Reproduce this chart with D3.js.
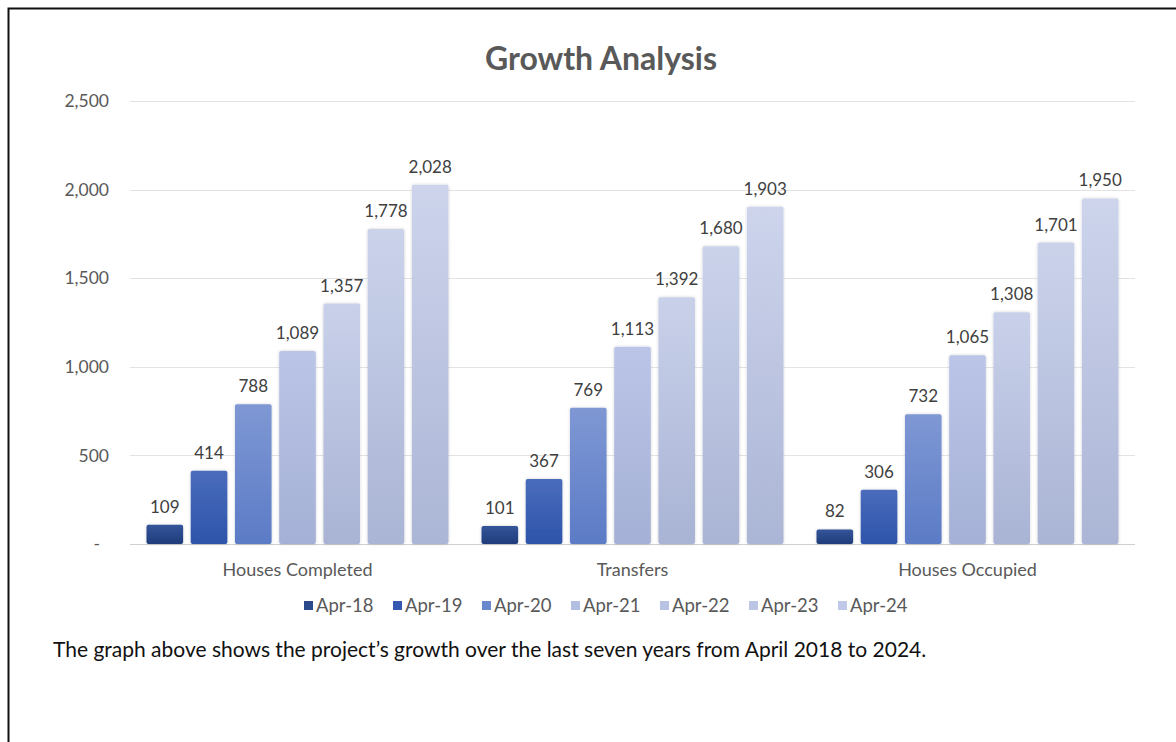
<!DOCTYPE html>
<html>
<head>
<meta charset="utf-8">
<script src="https://cdn.jsdelivr.net/npm/d3@7"></script>
<style>
  html, body { margin: 0; padding: 0; background: #fff; }
  svg { display: block; }
</style>
</head>
<body>
<svg id="chart" width="1176" height="742"></svg>
<script>
const categories = ["Houses Completed", "Transfers", "Houses Occupied"];
const seriesNames = ["Apr-18", "Apr-19", "Apr-20", "Apr-21", "Apr-22", "Apr-23", "Apr-24"];
const housesCompleted = [109, 414, 788, 1089, 1357, 1778, 2028];
const transfers = [101, 367, 769, 1113, 1392, 1680, 1903];
const housesOccupied = [82, 306, 732, 1065, 1308, 1701, 1950];
const yTicks = [0, 500, 1000, 1500, 2000, 2500];
const yTickLabels = ["-", "500", "1,000", "1,500", "2,000", "2,500"];
const title = "Growth Analysis";
const caption = "The graph above shows the project\u2019s growth over the last seven years from April 2018 to 2024.";

const seriesTop = ["#34559a", "#4a6cbc", "#7f98d4", "#bac5e7", "#c9d1ea", "#cbd3eb", "#cdd4ec"];
const seriesBottom = ["#203c7a", "#2d54aa", "#5b7bc6", "#a5b0d6", "#a9b3d4", "#aab4d4", "#abb5d5"];
const legendColors = ["#2a4a8c", "#3559b2", "#6a88cc", "#b2bde2", "#b8c2e2", "#bcc5e4", "#bfc8e6"];

const valuesByCat = [housesCompleted, transfers, housesOccupied];
const data = categories.map((c, i) => ({ cat: c, values: seriesNames.map((s, j) => ({ s, j, v: valuesByCat[i][j] })) }));

const svg = d3.select("#chart");
const font = "Lato, 'Open Sans', sans-serif";

// frame (top & left border)
svg.append("path").attr("d", "M8.5,742 L8.5,8.5 L1176,8.5").attr("fill", "none").attr("stroke", "#111").attr("stroke-width", 2);

const defs = svg.append("defs");
seriesNames.forEach((s, j) => {
  const g = defs.append("linearGradient").attr("id", "grad" + j).attr("x1", 0).attr("y1", 0).attr("x2", 0).attr("y2", 1);
  g.append("stop").attr("offset", "0%").attr("stop-color", seriesTop[j]);
  g.append("stop").attr("offset", "100%").attr("stop-color", seriesBottom[j]);
});
const f = defs.append("filter").attr("id", "shadow").attr("x", "-20%").attr("y", "-10%").attr("width", "140%").attr("height", "120%");
f.append("feDropShadow").attr("dx", 0).attr("dy", 0).attr("stdDeviation", 1.5).attr("flood-color", "#000").attr("flood-opacity", 0.18);

const plot = { left: 130, right: 1135, top: 101, bottom: 544 };

const y = d3.scaleLinear().domain([0, 2500]).range([plot.bottom, plot.top]);
const x0 = d3.scaleBand().domain(categories).range([plot.left, plot.right]).padding(0);
const pad = 16.5;
const x1 = d3.scaleBand().domain(seriesNames).range([pad, x0.bandwidth() - pad]).paddingInner(0.172).paddingOuter(0);

// gridlines
svg.append("g").selectAll("line").data(yTicks).join("line")
  .attr("x1", plot.left).attr("x2", plot.right)
  .attr("y1", d => Math.round(y(d)) + 0.5).attr("y2", d => Math.round(y(d)) + 0.5)
  .attr("stroke", d => d === 0 ? "#d0d0d0" : "#e3e3e3").attr("stroke-width", 1);

// y axis labels
const yAxis = d3.axisLeft(y).tickValues(yTicks).tickFormat((d, i) => yTickLabels[i]).tickSize(0).tickPadding(0);
const ya = svg.append("g").attr("transform", `translate(109,0)`).call(yAxis);
ya.select(".domain").remove();
ya.selectAll("text").attr("font-family", font).attr("font-size", 17.5).attr("fill", "#595959").attr("dx", d => d === 0 ? -9 : 0);

// bars
const groups = svg.append("g").selectAll("g").data(data).join("g")
  .attr("transform", d => `translate(${x0(d.cat)},0)`);

groups.selectAll("rect").data(d => d.values).join("rect")
  .attr("x", d => x1(d.s)).attr("width", x1.bandwidth())
  .attr("y", d => y(d.v)).attr("height", d => y(0) - y(d.v))
  .attr("rx", 2).attr("ry", 2)
  .attr("fill", d => `url(#grad${d.j})`)
  .attr("filter", "url(#shadow)");

groups.selectAll("text.val").data(d => d.values).join("text").attr("class", "val")
  .attr("x", d => x1(d.s) + x1.bandwidth() / 2)
  .attr("y", d => y(d.v) - 12)
  .attr("text-anchor", "middle")
  .attr("font-family", font).attr("font-size", 17).attr("fill", "#404040")
  .text(d => d3.format(",")(d.v));

// category labels
const xAxis = d3.axisBottom(x0).tickSize(0).tickPadding(0);
const xa = svg.append("g").attr("transform", `translate(0,${plot.bottom + 19})`).call(xAxis);
xa.select(".domain").remove();
xa.selectAll("text").attr("font-family", font).attr("font-size", 18).attr("fill", "#595959");

// title
svg.append("text").attr("x", 601).attr("y", 70).attr("text-anchor", "middle")
  .attr("font-family", font).attr("font-weight", "bold").attr("font-size", 32).attr("fill", "#595959")
  .text(title);

// legend
const legX = d3.scalePoint().domain(seriesNames).range([304, 838]);
const leg = svg.append("g").selectAll("g").data(seriesNames).join("g")
  .attr("transform", s => `translate(${legX(s)},606)`);
leg.append("rect").attr("x", 0).attr("y", -5).attr("width", 9).attr("height", 9)
  .attr("fill", (s, i) => legendColors[i]);
leg.append("text").attr("x", 12).attr("y", 6).attr("font-family", font).attr("font-size", 18.5).attr("fill", "#595959").text(s => s);

// caption
svg.append("text").attr("x", 53).attr("y", 657)
  .attr("font-family", font).attr("font-size", 21).attr("fill", "#111")
  .text(caption);
</script>
</body>
</html>
